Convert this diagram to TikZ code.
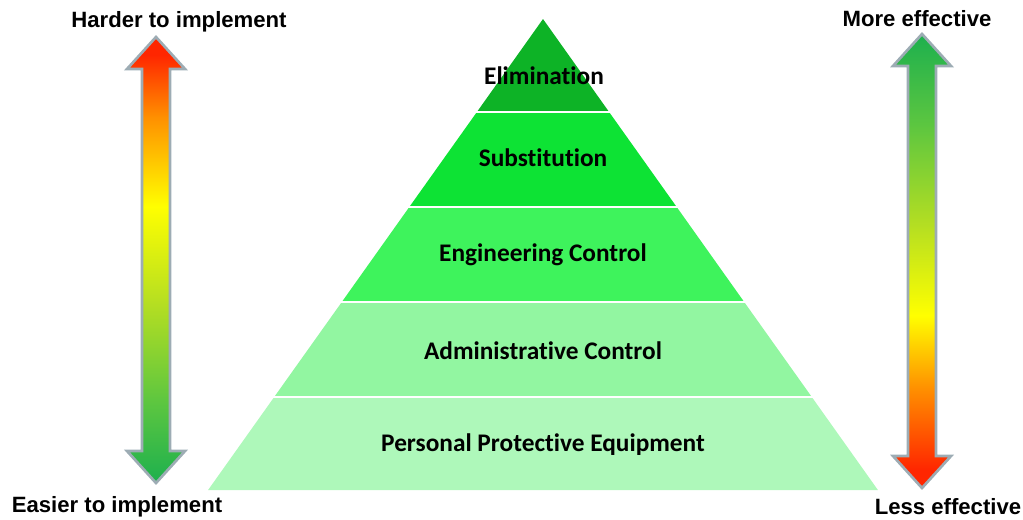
\documentclass[tikz,border=0pt]{standalone}
\usepackage{fontspec}
\setmainfont[Ligatures=NoCommon]{Carlito}
\newfontfamily\sidefont{Liberation Sans}
\definecolor{elimcol}{HTML}{0DB326}
\definecolor{substcol}{HTML}{0DE334}
\definecolor{engcol}{HTML}{3EF35C}
\definecolor{admincol}{HTML}{92F6A1}
\definecolor{ppecol}{HTML}{AEF8BA}
\definecolor{arrred}{HTML}{FF2600}
\definecolor{arrorange}{HTML}{FF9000}
\definecolor{arryellow}{HTML}{FFFF00}
\definecolor{arrlime}{HTML}{B4DE22}
\definecolor{arrleaf}{HTML}{5CC640}
\definecolor{arrgreen}{HTML}{1DB04E}
\definecolor{arredge}{HTML}{9DACB4}
\pgfdeclareverticalshading{hardeasy}{100bp}{color(0bp)=(arrgreen); color(25bp)=(arrgreen);
  color(34bp)=(arrleaf); color(45bp)=(arrlime); color(56bp)=(arryellow);
  color(66bp)=(arrorange); color(73bp)=(arrred); color(100bp)=(arrred)}
\pgfdeclareverticalshading{effective}{100bp}{color(0bp)=(arrred); color(27bp)=(arrred);
  color(36bp)=(arrorange); color(44bp)=(arryellow); color(54bp)=(arrlime);
  color(65bp)=(arrleaf); color(75bp)=(arrgreen); color(100bp)=(arrgreen)}
\tikzset{
  layer/.style={font=\fontsize{19}{21}\selectfont\bfseries, anchor=base},
  sidetext/.style={font=\sidefont\fontsize{16.6}{18}\selectfont\bfseries, anchor=base},
  bigarrow/.style={draw=arredge, line width=2pt, line join=miter},
  gap/.style={white, line width=2pt}
}
\begin{document}
\begin{tikzpicture}[x=0.75pt, y=-0.75pt]
  \useasboundingbox (0,0) rectangle (1023,519);
  % pyramid layers
  \fill[elimcol] (543,19) -- (609.1,112) -- (476.9,112) -- cycle;
  \fill[substcol] (476.9,112) -- (609.1,112) -- (676.7,207) -- (409.3,207) -- cycle;
  \fill[engcol] (409.3,207) -- (676.7,207) -- (744.2,302) -- (341.8,302) -- cycle;
  \fill[admincol] (341.8,302) -- (744.2,302) -- (811.8,397) -- (274.2,397) -- cycle;
  \fill[ppecol] (274.2,397) -- (811.8,397) -- (877.9,490) -- (208.1,490) -- cycle;
  \draw[gap] (470,112) -- (616,112);
  \draw[gap] (402,207) -- (684,207);
  \draw[gap] (334,302) -- (752,302);
  \draw[gap] (266,397) -- (820,397);
  \node[layer] (elim) at (544,84) {Elimination};
  \node[layer] (subst) at (543,166) {Substitution};
  \node[layer] (eng) at (543,261) {Engineering Control};
  \node[layer] (admin) at (543,359) {Administrative Control};
  \node[layer] (ppe) at (543,451) {Personal Protective Equipment};
  % left arrow
  \path[bigarrow, shading=hardeasy] (156,37) -- (185,69) -- (170,69) -- (170,451)
    -- (185,451) -- (156,483) -- (127,451) -- (142,451) -- (142,69) -- (127,69) -- cycle;
  % right arrow
  \path[bigarrow, shading=effective] (922,34) -- (951,66) -- (936,66) -- (936,456)
    -- (951,456) -- (922,488) -- (893,456) -- (908,456) -- (908,66) -- (893,66) -- cycle;
  \node[sidetext] (harder) at (179,27) {Harder to implement};
  \node[sidetext] (easier) at (117,512) {Easier to implement};
  \node[sidetext] (more) at (917,26) {More effective};
  \node[sidetext] (less) at (948,514) {Less effective};
\end{tikzpicture}
\end{document}
